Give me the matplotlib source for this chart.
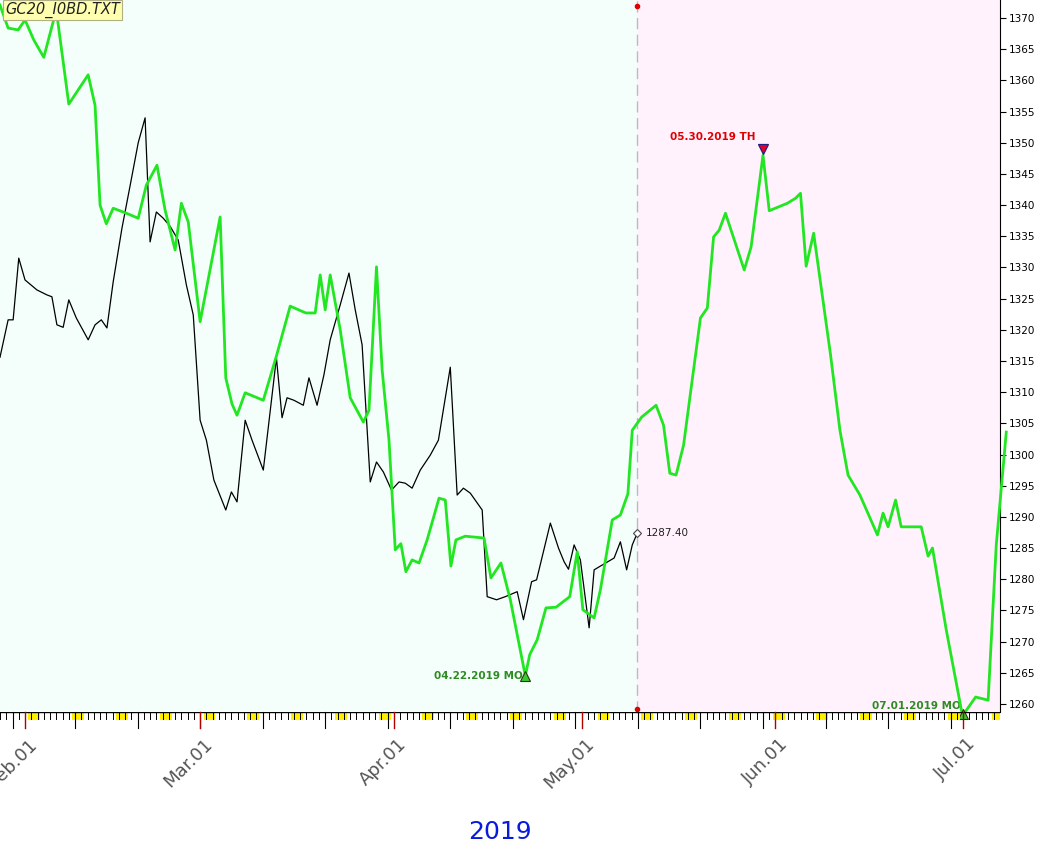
import matplotlib
matplotlib.use("Agg")
import matplotlib.pyplot as plt
import numpy as np
import pandas as pd

# day offsets from 2019-01-28 and prices
black_days = [0,1.3,2.1,3.0,4.0,5.9,7.5,8.3,9.1,10.1,11.0,12.2,14.1,15.2,16.2,17.1,18.1,19.5,20.8,22.1,23.2,24.0,25.0,26.1,27.2,28.5,29.8,30.9,32.0,33.0,34.2,36.1,37.0,37.9,39.2,40.3,42.1,44.2,45.1,45.9,47.0,48.5,49.4,50.7,51.8,52.8,54.4,55.8,56.8,57.9,59.2,60.2,61.3,62.6,63.8,64.8,65.9,67.2,68.8,70.1,72.0,73.1,74.1,75.2,77.1,77.9,79.4,80.8,82.7,83.7,85.0,85.8,88.0,89.3,90.2,90.9,91.8,92.8,94.2,95.0,96.0,98.2,99.2,100.2,101.1,101.9]
black_vals = [1315.6,1321.6,1321.6,1331.5,1328.0,1326.4,1325.6,1325.3,1320.8,1320.4,1324.8,1321.9,1318.4,1320.8,1321.6,1320.3,1327.7,1336.3,1343.1,1350.0,1354.0,1334.1,1338.9,1337.9,1336.6,1334.4,1327.2,1322.4,1305.5,1302.3,1295.9,1291.1,1294.0,1292.4,1305.5,1302.3,1297.5,1315.5,1305.9,1309.1,1308.7,1307.9,1312.3,1307.9,1312.8,1318.4,1324.0,1329.1,1323.2,1317.6,1295.6,1298.8,1297.2,1294.3,1295.6,1295.4,1294.6,1297.5,1299.9,1302.3,1314.0,1293.5,1294.6,1293.8,1291.1,1277.2,1276.7,1277.2,1278.0,1273.5,1279.6,1279.9,1289.0,1285.0,1282.8,1281.6,1285.5,1283.1,1272.2,1281.5,1282.1,1283.4,1286.0,1281.5,1285.5,1287.4]

green_days = [0,1.3,2.9,4.0,5.4,7.0,9.0,11.0,14.1,15.2,16.0,17.0,18.1,20.2,22.1,23.4,25.1,26.4,28.0,29.0,30.1,32.0,35.2,36.1,37.1,37.9,39.2,42.1,44.2,46.4,48.9,50.4,51.2,52.0,52.8,54.4,56.0,58.1,59.0,60.2,61.1,62.2,63.2,64.1,64.9,65.9,67.0,68.3,70.2,71.2,72.1,72.9,74.4,77.4,78.5,80.1,81.6,84.0,84.7,85.9,87.3,88.9,91.1,92.3,93.2,95.0,96.0,97.9,99.2,100.4,101.1,102.6,104.9,106.1,107.1,108.1,109.3,112.0,113.1,114.1,115.0,116.0,119.0,120.1,122.0,123.0,125.9,127.2,128.0,128.9,130.1,132.8,134.3,135.6,137.5,140.3,141.2,142.0,143.2,144.1,147.3,148.4,149.1,151.3,153.9,156.0,158.0,159.3,160.9]
green_vals = [1372.1,1368.4,1368.1,1369.7,1366.5,1363.7,1371.3,1356.2,1360.9,1356.0,1340.0,1337.0,1339.5,1338.7,1337.9,1343.2,1346.4,1339.2,1332.8,1340.3,1337.3,1321.3,1338.1,1312.3,1308.1,1306.3,1309.9,1308.7,1315.8,1323.8,1322.7,1322.7,1328.8,1323.2,1328.8,1320.0,1309.1,1305.2,1307.1,1330.1,1313.6,1302.3,1284.7,1285.7,1281.2,1283.1,1282.6,1286.3,1293.0,1292.7,1282.1,1286.3,1286.9,1286.6,1280.2,1282.6,1276.7,1264.5,1267.9,1270.3,1275.4,1275.5,1277.2,1284.4,1275.1,1273.8,1278.3,1289.5,1290.3,1293.7,1303.9,1306.0,1307.9,1304.7,1297.0,1296.7,1301.5,1321.9,1323.5,1334.9,1336.0,1338.7,1329.6,1333.3,1348.0,1339.1,1340.3,1341.1,1341.9,1330.2,1335.5,1316.0,1303.9,1296.7,1293.5,1287.1,1290.6,1288.4,1292.7,1288.4,1288.4,1283.7,1285.0,1271.9,1258.1,1261.1,1260.6,1285.5,1303.6]

month_labels = ["Feb.01", "Mar.01", "Apr.01", "May.01", "Jun.01", "Jul.01"]
month_days = [4, 32, 63, 93, 124, 154]
yticks = list(range(1260, 1371, 5))
split_day = 101.9
last_price = 1287.40
low1 = (84, 1264.5, "04.22.2019 MO")
high1 = (122, 1349.0, "05.30.2019 TH")
low2 = (154, 1258.3, "07.01.2019 MO")

W, H = 1063, 849
fig = plt.figure(figsize=(W/100, H/100), dpi=100)
ax = fig.add_axes([0, 1-712/H, 1000/W, 712/H])
x0, x1 = 0, 1000/6.254
ax.set_xlim(x0, x1)
ax.set_ylim(1258.7, 1372.9)

ax.axvspan(x0, split_day, color="#F4FFFC", zorder=0, lw=0)
ax.axvspan(split_day, x1, color="#FFF2FD", zorder=0, lw=0)
ax.axvline(split_day, color="#BBBBBB", ls=(0, (8, 4)), lw=1, zorder=1)

ax.plot(black_days, black_vals, color="black", lw=0.9, zorder=3)
ax.plot(green_days, green_vals, color="#22E622", lw=2, zorder=4, clip_on=False)

ax.plot([split_day], [last_price], marker="D", ms=4, mfc="white", mec="#444444", mew=0.8, zorder=5)
ax.text(split_day + 1.4, last_price, f"{last_price:.2f}", fontsize=7.5, va="center", color="#222222")
ax.plot([split_day], [1371.9], "o", color="#E00000", ms=3, clip_on=False, zorder=6)
ax.plot([split_day], [1259.2], "o", color="#E00000", ms=3, clip_on=False, zorder=6)

ax.plot([low1[0]], [low1[1]], marker="^", ms=7, mfc="#33CC33", mec="#333300", mew=0.8, zorder=6)
ax.text(low1[0] - 0.4, low1[1], low1[2], fontsize=7.5, fontweight="bold", color="#2E8B22", ha="right", va="center")
ax.plot([high1[0]], [high1[1]], marker="v", ms=7, mfc="#E8002A", mec="#202080", mew=0.9, zorder=6)
ax.text(high1[0] - 1.2, high1[1] + 2.0, high1[2], fontsize=7.5, fontweight="bold", color="#E00000", ha="right", va="center")
ax.plot([low2[0]], [low2[1]], marker="^", ms=7, mfc="#33CC33", mec="#333300", mew=0.8, zorder=6, clip_on=False)
ax.text(low2[0] - 0.4, low2[1] + 1.3, low2[2], fontsize=7.5, fontweight="bold", color="#2E8B22", ha="right", va="center")

# right axis
ax.yaxis.tick_right()
ax.set_yticks(yticks)
ax.set_yticklabels([str(v) for v in yticks], fontsize=7.5)
ax.tick_params(axis="y", direction="out", length=4, pad=2)
for s in ["top", "left", "bottom"]:
    ax.spines[s].set_visible(False)
ax.spines["right"].set_color("black")
ax.set_xticks([])

# bottom day strip
strip = fig.add_axes([0, 1-722/H, 1000/W, 10/H])
strip.set_xlim(x0, x1)
strip.set_ylim(0, 1)
strip.axis("off")
strip.axhline(1, color="black", lw=1)
for d in range(0, 161):
    if d % 7 == 5:
        strip.add_patch(plt.Rectangle((d - 0.45, 0.25), 1.9, 0.75, color="#FFEE00", lw=0))
for d in range(0, 161):
    strip.plot([d, d], [0.3, 1], color="black", lw=0.7)
for d in range(2, 161, 10):
    strip.plot([d, d], [-0.6, 1], color="black", lw=0.8, clip_on=False)
for d in month_days:
    strip.plot([d, d], [-0.6, 1], color="#B00000", lw=1, clip_on=False)

for lab, d in zip(month_labels, month_days):
    xf = d * 6.254 / W
    fig.text(xf + 0.003, 1-735/H, lab, rotation=45, rotation_mode="anchor", ha="right", va="top",
             fontsize=13, color="#555555")
fig.text(500/W, 1-832/H, "2019", fontsize=18, color="#0A1ADC", ha="center", va="center")

fig.text(5/W, 1-10/H, "GC20_I0BD.TXT", fontsize=10.5, style="italic", color="#222222", va="center",
         bbox=dict(boxstyle="square,pad=0.15", fc="#FFFFB0", ec="#B0B080", lw=0.8))

fig.savefig("out.png", dpi=100, facecolor="white")
